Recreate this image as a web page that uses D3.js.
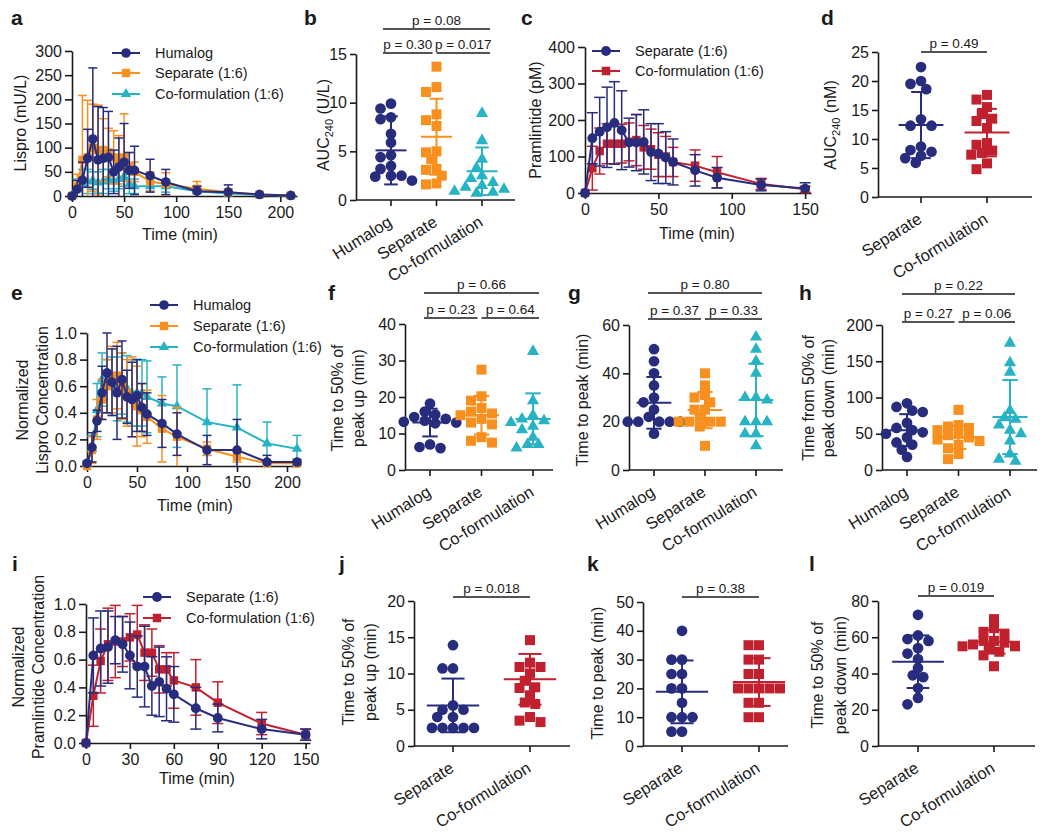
<!DOCTYPE html>
<html>
<head>
<meta charset="utf-8">
<script src="https://cdn.jsdelivr.net/npm/d3@7"></script>
<style>
  body { margin: 0; background: #fff; }
  svg { font-family: "Liberation Sans", Arial, Helvetica, sans-serif; }
</style>
</head>
<body>
<script>
/* --- colours --- */
const INK = "#1a1a1a";
const NAVY = "#272c7d", ORANGE = "#f7901e", TEAL = "#27b3c3", RED = "#c1212f";

/* --- time points (min) --- */
const timesLispro = [0, 5, 10, 15, 20, 25, 30, 35, 40, 45, 50, 55, 60, 75, 90, 120, 150, 180, 210];
const timesPram = [0, 5, 10, 15, 20, 25, 30, 35, 40, 45, 50, 55, 60, 75, 90, 120, 150];

/* --- a: lispro (mU/L), mean and SD --- */
const humalogA = [0, 14, 33, 78, 118, 75, 78, 80, 50, 60, 70, 53, 53, 42, 29, 10, 8, 3, 1];
const humalogA_sd = [0, 18, 37, 60, 147, 110, 105, 95, 45, 60, 80, 37, 50, 34, 26, 10, 15, 2, 1];
const separateA = [0, 20, 75, 80, 100, 95, 95, 90, 80, 75, 80, 60, 50, 30, 25, 15, 8, 3, 1];
const separateA_sd = [0, 25, 133, 118, 90, 93, 65, 50, 55, 50, 90, 30, 20, 20, 23, 15, 7, 2, 1];
const coformA = [0, 15, 25, 30, 32, 28, 30, 35, 30, 35, 40, 25, 20, 20, 20, 10, 5, 2, 1];
const coformA_sd = [0, 20, 30, 25, 18, 22, 25, 20, 20, 20, 20, 20, 15, 10, 12, 10, 5, 2, 1];

/* --- e: normalized lispro --- */
const humalogE = [0.02, 0.14, 0.34, 0.55, 0.70, 0.63, 0.55, 0.65, 0.52, 0.50, 0.53, 0.44, 0.39, 0.32, 0.24, 0.12, 0.12, 0.03, 0.03];
const humalogE_sd = [0.01, 0.11, 0.08, 0.20, 0.30, 0.25, 0.35, 0.29, 0.20, 0.28, 0.27, 0.18, 0.16, 0.18, 0.16, 0.11, 0.23, 0.05, 0.02];
const separateE = [0.0, 0.12, 0.35, 0.50, 0.60, 0.65, 0.68, 0.60, 0.55, 0.52, 0.45, 0.42, 0.37, 0.28, 0.22, 0.13, 0.07, 0.02, 0.02];
const separateE_sd = [0.0, 0.10, 0.15, 0.15, 0.20, 0.25, 0.25, 0.25, 0.25, 0.30, 0.30, 0.20, 0.20, 0.25, 0.22, 0.05, 0.04, 0.02, 0.01];
const coformE = [0.02, 0.13, 0.42, 0.65, 0.60, 0.60, 0.58, 0.62, 0.58, 0.55, 0.55, 0.55, 0.52, 0.47, 0.45, 0.33, 0.29, 0.17, 0.13];
const coformE_sd = [0.02, 0.10, 0.20, 0.20, 0.20, 0.22, 0.24, 0.23, 0.25, 0.25, 0.25, 0.25, 0.27, 0.20, 0.31, 0.25, 0.32, 0.16, 0.10];

/* --- c: pramlintide (pM) --- */
const separateC = [0, 150, 168, 180, 192, 172, 138, 138, 140, 112, 108, 97, 85, 62, 42, 22, 12];
const separateC_sd = [0, 70, 94, 110, 113, 108, 67, 77, 88, 78, 82, 71, 63, 43, 28, 16, 16];
const coformC = [0, 68, 115, 135, 135, 135, 140, 145, 125, 120, 105, 100, 85, 75, 57, 25, 10];
const coformC_sd = [0, 60, 63, 55, 55, 53, 52, 70, 60, 55, 60, 55, 40, 43, 43, 15, 8];

/* --- i: normalized pramlintide --- */
const separateI = [0, 0.63, 0.68, 0.69, 0.74, 0.71, 0.63, 0.55, 0.55, 0.41, 0.44, 0.39, 0.35, 0.25, 0.18, 0.10, 0.06];
const separateI_sd = [0, 0.27, 0.27, 0.26, 0.17, 0.20, 0.24, 0.22, 0.29, 0.21, 0.25, 0.23, 0.20, 0.15, 0.10, 0.07, 0.04];
const coformI = [0, 0.34, 0.59, 0.71, 0.73, 0.73, 0.76, 0.78, 0.65, 0.65, 0.53, 0.53, 0.45, 0.40, 0.29, 0.14, 0.06];
const coformI_sd = [0, 0.22, 0.23, 0.26, 0.26, 0.18, 0.17, 0.21, 0.20, 0.17, 0.17, 0.12, 0.20, 0.20, 0.15, 0.08, 0.04];

/* --- scatter panels: individual values, mean, SD --- */
const catsLispro = ["Humalog", "Separate", "Co-formulation"];
const catsPram = ["Separate", "Co-formulation"];

const humalogB = [9.9, 9.4, 8.5, 8.3, 6.8, 5.9, 4.6, 4.4, 3.5, 3.2, 2.5, 2.5, 2.4, 2.0];
const separateB = [13.7, 11.6, 11.1, 8.8, 8.2, 7.6, 5.0, 4.9, 4.2, 3.2, 3.1, 2.5, 1.7, 1.6];
const coformB = [8.9, 6.1, 4.2, 3.3, 2.5, 2.2, 1.8, 1.5, 1.3, 1.1, 0.9, 0.8, 0.7];
const meanB = [5.1, 6.5, 2.95], sdB = [3.5, 3.9, 2.45];
const pB = ["p = 0.30", "p = 0.017", "p = 0.08"];

const separateD = [22.4, 20.0, 19.5, 18.6, 13.4, 12.3, 12.3, 8.7, 8.1, 7.8, 7.1, 6.7, 5.9];
const coformD = [17.6, 16.8, 15.5, 14.3, 13.5, 13.1, 11.9, 9.3, 9.0, 8.0, 7.6, 7.3, 5.8, 4.8];
const meanD = [12.4, 11.1], sdD = [5.7, 4.1];
const pD = ["p = 0.49"];

const humalogF = [18.2, 16.0, 15.2, 14.5, 14.0, 13.5, 13.2, 13.0, 12.8, 7.0, 6.3, 6.0];
const separateF = [27.5, 20.2, 19.0, 17.0, 16.0, 15.5, 15.0, 14.0, 13.0, 12.5, 9.0, 8.0, 7.5];
const coformF = [32.5, 19.0, 15.0, 14.0, 13.5, 13.0, 12.0, 11.0, 9.0, 7.0, 7.0, 6.0];
const meanF = [13.0, 15.0, 14.0], sdF = [3.8, 5.3, 7.0];
const pF = ["p = 0.23", "p = 0.64", "p = 0.66"];

const humalogG = [50, 45, 40, 35, 30, 28, 25, 22, 20, 20, 20, 20, 20, 15];
const separateG = [40, 35, 31, 30, 28, 25, 25, 22, 20, 20, 20, 20, 18, 10];
const coformG = [55, 50, 45, 40, 30, 30, 29, 20, 20, 20, 15, 15, 10];
const meanG = [27.8, 24.8, 29], sdG = [10.7, 7.5, 15];
const pG = ["p = 0.37", "p = 0.33", "p = 0.80"];

const humalogH = [92, 87, 82, 80, 65, 58, 55, 52, 50, 45, 38, 35, 28, 18];
const separateH = [83, 62, 60, 58, 55, 50, 48, 45, 42, 40, 35, 30, 22, 15];
const coformH = [175, 148, 135, 82, 72, 70, 62, 55, 50, 40, 22, 15, 12];
const meanH = [55, 45, 73], sdH = [22, 16, 51];
const pH = ["p = 0.27", "p = 0.06", "p = 0.22"];

const separateJ = [13.9, 10.7, 10.7, 5.6, 5.0, 5.0, 4.0, 4.0, 2.5, 2.5, 2.5, 2.5, 2.5];
const coformJ = [14.6, 11.5, 10.9, 10.9, 10.0, 9.0, 8.1, 8.0, 7.0, 6.0, 5.8, 4.0, 3.5, 3.3];
const meanJ = [5.6, 9.2], sdJ = [3.7, 3.5];
const pJ = ["p = 0.018"];

const separateK = [40, 30, 30, 25, 25, 20, 20, 15, 10, 10, 10, 5, 5];
const coformK = [35, 35, 30, 30, 25, 25, 20, 20, 20, 20, 20, 15, 15, 10, 10];
const meanK = [18.8, 22.2], sdK = [10.9, 8.3];
const pK = ["p = 0.38"];

const separateL = [72.4, 61, 59, 58, 54, 51, 48, 43, 39, 38, 32, 26.5, 23];
const coformL = [70, 65, 63, 62, 58, 58, 57, 56, 55, 55, 54, 52, 50, 44];
const meanL = [46.5, 57.5], sdL = [14.5, 6.5];
const pL = ["p = 0.019"];

const legendLispro = ["Humalog", "Separate (1:6)", "Co-formulation (1:6)"];
const legendPram = ["Separate (1:6)", "Co-formulation (1:6)"];

/* --- SVG --- */
const svg = d3.select("body").append("svg").attr("width", 1050).attr("height", 834);

const symbols = { circle: d3.symbolCircle, square: d3.symbolSquare, triangle: d3.symbolTriangle };

function styleAxis(sel) {
  sel.attr("font-size", 16).attr("font-family", null);
  sel.select(".domain").attr("stroke", INK).attr("stroke-width", 1.6);
  sel.selectAll(".tick line").attr("stroke", INK).attr("stroke-width", 1.6);
  sel.selectAll(".tick text").attr("fill", INK);
}

function panelLabel(txt, x, y) {
  svg.append("text").attr("x", x).attr("y", y).attr("font-size", 21)
    .attr("font-weight", "bold").attr("fill", INK).text(txt);
}

function yTitle(lines, xs, y) {
  lines.forEach((l, i) => {
    svg.append("text").attr("transform", `translate(${xs[i]},${y}) rotate(-90)`)
      .attr("text-anchor", "middle").attr("dy", "0.35em").attr("font-size", 16)
      .attr("fill", INK).text(l);
  });
}

function aucTitle(unit, x, y) {
  const t = svg.append("text").attr("transform", `translate(${x},${y}) rotate(-90)`)
    .attr("text-anchor", "middle").attr("dy", "0.35em").attr("font-size", 16).attr("fill", INK);
  t.append("tspan").text("AUC");
  t.append("tspan").attr("font-size", 11).attr("dy", 4).text("240");
  t.append("tspan").attr("dy", -4).text(" (" + unit + ")");
}

function xTitle(txt, x, y) {
  svg.append("text").attr("x", x).attr("y", y).attr("text-anchor", "middle")
    .attr("dy", "0.35em").attr("font-size", 16).attr("fill", INK).text(txt);
}

/* --- time course panels --- */
function drawTimeCourse(cfg) {
  const g = svg.append("g");
  const x = d3.scaleLinear().domain([0, cfg.xMax]).range([cfg.left, cfg.right]);
  const y = d3.scaleLinear().domain([0, cfg.yMax]).range([cfg.bottom, cfg.top]);

  g.append("g").attr("transform", `translate(0,${cfg.bottom})`)
    .call(d3.axisBottom(x).tickValues(cfg.xTicks).tickSize(6).tickSizeOuter(0).tickPadding(5))
    .call(styleAxis);
  g.append("g").attr("transform", `translate(${cfg.left},0)`)
    .call(d3.axisLeft(y).tickValues(cfg.yTicks).tickFormat(cfg.yFormat || d3.format("d"))
      .tickSize(7).tickSizeOuter(0).tickPadding(3))
    .call(styleAxis);

  cfg.series.forEach((s) => {
    const pts = cfg.times.map((t, i) => ({ t: t, m: s.mean[i], sd: s.sd[i] }));
    const eb = g.append("g").attr("stroke", s.color).attr("stroke-width", 1.5);
    pts.forEach((p) => {
      if (p.sd <= 0) return;
      const lo = p.m - p.sd, hi = p.m + p.sd;
      const xx = x(p.t);
      eb.append("line").attr("x1", xx).attr("x2", xx)
        .attr("y1", y(Math.max(0, lo))).attr("y2", y(hi));
      eb.append("line").attr("x1", xx - cfg.cap).attr("x2", xx + cfg.cap)
        .attr("y1", y(hi)).attr("y2", y(hi));
      if (lo > 0) {
        eb.append("line").attr("x1", xx - cfg.cap).attr("x2", xx + cfg.cap)
          .attr("y1", y(lo)).attr("y2", y(lo));
      }
    });
    g.append("path").datum(pts)
      .attr("d", d3.line().x((d) => x(d.t)).y((d) => y(d.m)))
      .attr("fill", "none").attr("stroke", s.color).attr("stroke-width", 2);
    g.selectAll(null).data(pts).enter().append("path")
      .attr("d", d3.symbol(symbols[s.shape], s.size)())
      .attr("transform", (d) => `translate(${x(d.t)},${y(d.m)})`)
      .attr("fill", s.color);
  });

  // legend
  cfg.series.forEach((s, i) => {
    const ly = cfg.legend.rows[i], lx = cfg.legend.x;
    g.append("line").attr("x1", lx).attr("x2", lx + 28).attr("y1", ly).attr("y2", ly)
      .attr("stroke", s.color).attr("stroke-width", 2);
    g.append("path").attr("d", d3.symbol(symbols[s.shape], s.size)())
      .attr("transform", `translate(${lx + 14},${ly})`).attr("fill", s.color);
    g.append("text").attr("x", lx + 43).attr("y", ly).attr("dy", "0.35em")
      .attr("font-size", 14.5).attr("fill", INK).text(s.name);
  });
}

/* --- scatter dot panels --- */
// 重なる点を左右にずらす（貪欲法、少し重なりを許す）
function swarm(values, y, diam) {
  const pts = values.map((v) => ({ v: v, py: y(v) })).sort((a, b) => a.py - b.py);
  const placed = [];
  const s = diam * 0.5;
  pts.forEach((p) => {
    p.dx = 0;
    for (let k = 0; k < 40; k++) {
      const off = k === 0 ? 0 : (k % 2 ? -1 : 1) * Math.ceil(k / 2) * s;
      const ok = placed.every((q) => Math.hypot(q.dx - off, q.py - p.py) >= diam * 0.8);
      if (ok) { p.dx = off; break; }
    }
    placed.push(p);
  });
  return placed;
}

function drawScatter(cfg) {
  const g = svg.append("g");
  const y = d3.scaleLinear().domain([0, cfg.yMax]).range([cfg.bottom, cfg.top]);
  const x = d3.scalePoint().domain(cfg.cats).range(cfg.catRange);
  const gap = (cfg.catRange[1] - cfg.catRange[0]) / (cfg.cats.length - 1);

  g.append("g").attr("transform", `translate(${cfg.left},0)`)
    .call(d3.axisLeft(y).tickValues(cfg.yTicks).tickSize(6).tickSizeOuter(0).tickPadding(3))
    .call(styleAxis);

  g.append("line").attr("x1", cfg.left).attr("x2", cfg.right)
    .attr("y1", cfg.bottom).attr("y2", cfg.bottom)
    .attr("stroke", INK).attr("stroke-width", 1.6);
  g.selectAll(null).data(cfg.cats).enter().append("line")
    .attr("x1", (d) => x(d)).attr("x2", (d) => x(d))
    .attr("y1", cfg.bottom).attr("y2", cfg.bottom + 6)
    .attr("stroke", INK).attr("stroke-width", 1.6);
  g.selectAll(null).data(cfg.cats).enter().append("text")
    .attr("transform", (d) => `translate(${x(d) + 2},${cfg.bottom + 25}) rotate(-32)`)
    .attr("text-anchor", "end").attr("font-size", 16.5).attr("fill", INK).text((d) => d);

  cfg.groups.forEach((grp, gi) => {
    const cx = x(cfg.cats[gi]);
    const pts = swarm(grp.values, y, grp.diam);
    g.selectAll(null).data(pts).enter().append("path")
      .attr("d", d3.symbol(symbols[grp.shape], grp.size)())
      .attr("transform", (d) => `translate(${cx + d.dx},${d.py})`)
      .attr("fill", grp.color);

    const m = cfg.mean[gi], sd = cfg.sd[gi];
    const mw = gap * 0.34, cw = gap * 0.15;
    const sg = g.append("g").attr("stroke", grp.color).attr("stroke-width", 2);
    sg.append("line").attr("x1", cx).attr("x2", cx).attr("y1", y(Math.max(0, m - sd))).attr("y2", y(m + sd));
    sg.append("line").attr("x1", cx - mw).attr("x2", cx + mw).attr("y1", y(m)).attr("y2", y(m));
    sg.append("line").attr("x1", cx - cw).attr("x2", cx + cw).attr("y1", y(m + sd)).attr("y2", y(m + sd));
    if (m - sd > 0) {
      sg.append("line").attr("x1", cx - cw).attr("x2", cx + cw).attr("y1", y(m - sd)).attr("y2", y(m - sd));
    }
  });

  // significance bars
  const last = cfg.cats.length - 1;
  cfg.pairs.forEach((pr, i) => {
    const a = pr[0], b = pr[1];
    const x1 = a === 0 ? x(cfg.cats[a]) - cfg.ext : x(cfg.cats[a]);
    const x2 = b === last ? x(cfg.cats[b]) + cfg.ext : x(cfg.cats[b]) - 4;
    const by = cfg.barY[i];
    g.append("line").attr("x1", x1).attr("x2", x2).attr("y1", by).attr("y2", by)
      .attr("stroke", INK).attr("stroke-width", 1.6);
    g.append("text").attr("x", (x1 + x2) / 2).attr("y", by - 4).attr("text-anchor", "middle")
      .attr("font-size", 13.5).attr("fill", INK).text(cfg.pLabels[i]);
  });
}

/* --- series styles --- */
function lisproSeries(h, hs, s, ss, c, cs) {
  return [
    { name: legendLispro[2], mean: c, sd: cs, color: TEAL, shape: "triangle", size: 48 },
    { name: legendLispro[1], mean: s, sd: ss, color: ORANGE, shape: "square", size: 70 },
    { name: legendLispro[0], mean: h, sd: hs, color: NAVY, shape: "circle", size: 72 }
  ];
}
function pramSeries(s, ss, c, cs) {
  return [
    { name: legendPram[1], mean: c, sd: cs, color: RED, shape: "square", size: 72 },
    { name: legendPram[0], mean: s, sd: ss, color: NAVY, shape: "circle", size: 76 }
  ];
}
function lisproGroups(h, s, c) {
  return [
    { values: h, color: NAVY, shape: "circle", size: 90, diam: 10.5 },
    { values: s, color: ORANGE, shape: "square", size: 100, diam: 10.5 },
    { values: c, color: TEAL, shape: "triangle", size: 64, diam: 11 }
  ];
}
function pramGroups(s, c) {
  return [
    { values: s, color: NAVY, shape: "circle", size: 90, diam: 10.5 },
    { values: c, color: RED, shape: "square", size: 100, diam: 10.5 }
  ];
}

/* --- panel a --- */
drawTimeCourse({
  left: 72, right: 297, xMax: 216, bottom: 196, top: 51, yMax: 300,
  xTicks: [0, 50, 100, 150, 200], yTicks: [0, 50, 100, 150, 200, 250, 300], cap: 4.5,
  times: timesLispro,
  series: lisproSeries(humalogA, humalogA_sd, separateA, separateA_sd, coformA, coformA_sd),
  legend: { x: 112, rows: [94, 73, 53] }
});
panelLabel("a", 11, 25);
yTitle(["Lispro (mU/L)"], [20], 123);
xTitle("Time (min)", 180, 234);

/* --- panel b --- */
drawScatter({
  left: 356, right: 515, bottom: 200, top: 54, yMax: 15, yTicks: [0, 5, 10, 15],
  cats: catsLispro, catRange: [391, 482],
  groups: lisproGroups(humalogB, separateB, coformB), mean: meanB, sd: sdB,
  pairs: [[0, 1], [1, 2], [0, 2]], pLabels: pB, barY: [53, 53, 29], ext: 8
});
panelLabel("b", 304, 25);
aucTitle("U/L", 323, 125);

/* --- panel c --- */
drawTimeCourse({
  left: 585, right: 811, xMax: 154, bottom: 193, top: 47, yMax: 400,
  xTicks: [0, 50, 100, 150], yTicks: [0, 100, 200, 300, 400], cap: 5.5,
  times: timesPram,
  series: pramSeries(separateC, separateC_sd, coformC, coformC_sd),
  legend: { x: 592, rows: [71, 51] }
});
panelLabel("c", 521, 25);
yTitle(["Pramlintide (pM)"], [535], 120);
xTitle("Time (min)", 697, 233);

/* --- panel d --- */
drawScatter({
  left: 878, right: 1032, bottom: 197, top: 52, yMax: 25, yTicks: [0, 5, 10, 15, 20, 25],
  cats: catsPram, catRange: [921, 987],
  groups: pramGroups(separateD, coformD), mean: meanD, sd: sdD,
  pairs: [[0, 1]], pLabels: pD, barY: [52], ext: 0
});
panelLabel("d", 821, 25);
aucTitle("nM", 830, 125);

/* --- panel e --- */
drawTimeCourse({
  left: 87, right: 300, xMax: 213, bottom: 466, top: 333, yMax: 1,
  xTicks: [0, 50, 100, 150, 200], yTicks: [0, 0.2, 0.4, 0.6, 0.8, 1.0], yFormat: d3.format(".1f"), cap: 4.5,
  times: timesLispro,
  series: lisproSeries(humalogE, humalogE_sd, separateE, separateE_sd, coformE, coformE_sd),
  legend: { x: 150, rows: [347, 326, 305] }
});
panelLabel("e", 11, 300);
yTitle(["Normalized", "Lispro Concentration"], [22, 42], 400);
xTitle("Time (min)", 195, 505);

/* --- panel f --- */
drawScatter({
  left: 405, right: 553, bottom: 470, top: 324, yMax: 40, yTicks: [0, 10, 20, 30, 40],
  cats: catsLispro, catRange: [430, 533],
  groups: lisproGroups(humalogF, separateF, coformF), mean: meanF, sd: sdF,
  pairs: [[0, 1], [1, 2], [0, 2]], pLabels: pF, barY: [318, 318, 293], ext: 6
});
panelLabel("f", 328, 300);
yTitle(["Time to 50% of", "peak up (min)"], [337, 358], 398);

/* --- panel g --- */
drawScatter({
  left: 629, right: 783, bottom: 470, top: 325, yMax: 60, yTicks: [0, 20, 40, 60],
  cats: catsLispro, catRange: [654, 756],
  groups: lisproGroups(humalogG, separateG, coformG), mean: meanG, sd: sdG,
  pairs: [[0, 1], [1, 2], [0, 2]], pLabels: pG, barY: [319, 319, 293], ext: 6
});
panelLabel("g", 568, 300);
yTitle(["Time to peak (min)"], [582], 400);

/* --- panel h --- */
drawScatter({
  left: 882, right: 1037, bottom: 470, top: 325, yMax: 200, yTicks: [0, 50, 100, 150, 200],
  cats: catsLispro, catRange: [907, 1010],
  groups: lisproGroups(humalogH, separateH, coformH), mean: meanH, sd: sdH,
  pairs: [[0, 1], [1, 2], [0, 2]], pLabels: pH, barY: [322, 322, 294], ext: 5
});
panelLabel("h", 799, 300);
yTitle(["Time from 50% of", "peak down (min)"], [808, 828], 398);

/* --- panel i --- */
drawTimeCourse({
  left: 86, right: 310, xMax: 153, bottom: 743, top: 604, yMax: 1,
  xTicks: [0, 30, 60, 90, 120, 150], yTicks: [0, 0.2, 0.4, 0.6, 0.8, 1.0], yFormat: d3.format(".1f"), cap: 5.5,
  times: timesPram,
  series: pramSeries(separateI, separateI_sd, coformI, coformI_sd),
  legend: { x: 143, rows: [618, 597] }
});
panelLabel("i", 12, 571);
yTitle(["Normalized", "Pramlintide Concentration"], [18, 38], 667);
xTitle("Time (min)", 197, 778);

/* --- panel j --- */
drawScatter({
  left: 414, right: 570, bottom: 746, top: 601, yMax: 20, yTicks: [0, 5, 10, 15, 20],
  cats: catsPram, catRange: [453, 530],
  groups: pramGroups(separateJ, coformJ), mean: meanJ, sd: sdJ,
  pairs: [[0, 1]], pLabels: pJ, barY: [597], ext: 0
});
panelLabel("j", 339, 571);
yTitle(["Time to 50% of", "peak up (min)"], [348, 370], 672);

/* --- panel k --- */
drawScatter({
  left: 643, right: 788, bottom: 746, top: 602, yMax: 50, yTicks: [0, 10, 20, 30, 40, 50],
  cats: catsPram, catRange: [682, 759],
  groups: pramGroups(separateK, coformK), mean: meanK, sd: sdK,
  pairs: [[0, 1]], pLabels: pK, barY: [597], ext: 0
});
panelLabel("k", 587, 571);
yTitle(["Time to peak (min)"], [597], 673);

/* --- panel l --- */
drawScatter({
  left: 878, right: 1035, bottom: 746, top: 601, yMax: 80, yTicks: [0, 20, 40, 60, 80],
  cats: catsPram, catRange: [918, 994],
  groups: pramGroups(separateL, coformL), mean: meanL, sd: sdL,
  pairs: [[0, 1]], pLabels: pL, barY: [596], ext: 0
});
panelLabel("l", 809, 571);
yTitle(["Time to 50% of", "peak down (min)"], [817, 840], 675);
</script>
</body>
</html>
